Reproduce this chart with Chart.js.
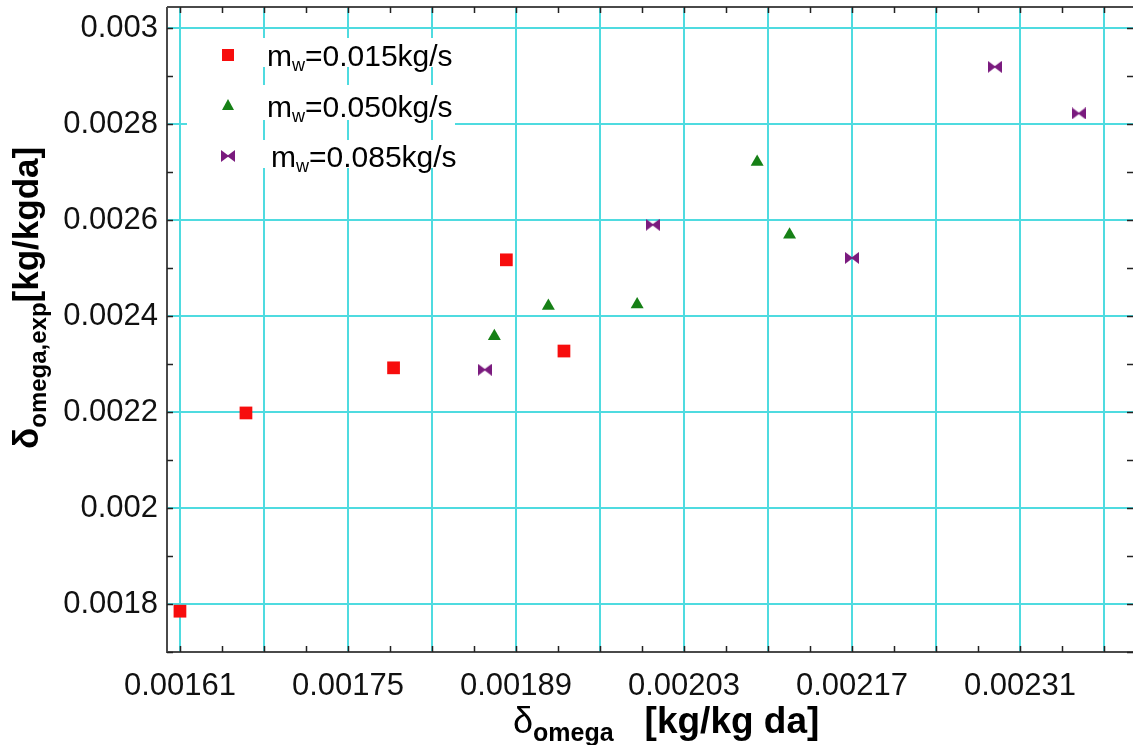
<!DOCTYPE html>
<html>
<head>
<meta charset="utf-8">
<script src="https://cdn.jsdelivr.net/npm/chart.js@4.4.1/dist/chart.umd.min.js"></script>
<style>
  html, body { margin: 0; background: #fff; }
  #wrap { width: 1133px; height: 745px; }
</style>
</head>
<body>
<div id="wrap"><canvas id="chart" width="1133" height="745"></canvas></div>
<script>
// Datos
const seriesNames = ["=0.015kg/s", "=0.050kg/s", "=0.085kg/s"];

const x015 = [0.00161, 0.001665, 0.001788, 0.001882, 0.00193];
const y015 = [0.001785, 0.002198, 0.002292, 0.002517, 0.002327];

const x050 = [0.001872, 0.001917, 0.001991, 0.002091, 0.002118];
const y050 = [0.002358, 0.002421, 0.002424, 0.002721, 0.002569];

const x085 = [0.001864, 0.002004, 0.00217, 0.002289, 0.002359];
const y085 = [0.002288, 0.00259, 0.002521, 0.002919, 0.002822];

const xTickLabels = ["0.00161", "0.00175", "0.00189", "0.00203", "0.00217", "0.00231"];
const yTickLabels = ["0.0018", "0.002", "0.0022", "0.0024", "0.0026", "0.0028", "0.003"];

const FONT = "'Liberation Sans', Arial, sans-serif";
const CYAN = "#4fdbe0";
const colRed = "#f70d0d", colGreen = "#168016", colPurple = "#7a1a7e";

const xLabVals = xTickLabels.map(Number);
const yLabVals = yTickLabels.map(Number);
const xHalf = (xLabVals[1] - xLabVals[0]) / 2;
const xGrid = [];
for (let i = 0; i < xLabVals.length * 2; i++) xGrid.push(+(xLabVals[0] + i * xHalf).toFixed(6));

const toPts = (xs, ys) => xs.map((x, i) => ({ x: x, y: ys[i] }));

// bowtie marker
function bowtie(color) {
    const c = document.createElement("canvas");
    c.width = 14; c.height = 12;
    const g = c.getContext("2d");
    g.fillStyle = color;
    g.beginPath(); g.moveTo(0, 0); g.lineTo(8, 6); g.lineTo(0, 12); g.closePath(); g.fill();
    g.beginPath(); g.moveTo(14, 0); g.lineTo(6, 6); g.lineTo(14, 12); g.closePath(); g.fill();
    return c;
}
const bowImg = bowtie(colPurple);

function richText(ctx, parts, x, y) {
    let cx = x;
    parts.forEach(p => {
        ctx.font = p.font;
        ctx.fillText(p.t, cx, y + (p.dy || 0));
        cx += ctx.measureText(p.t).width + (p.gap || 0);
    });
}

const decor = {
    id: "decor",
    beforeDraw(chart) {
        const ctx = chart.ctx;
        ctx.save(); ctx.fillStyle = "#fff"; ctx.fillRect(0, 0, chart.width, chart.height); ctx.restore();
    },
    afterDraw(chart) {
        const ctx = chart.ctx, a = chart.chartArea;
        const sx = chart.scales.x, sy = chart.scales.y;
        ctx.save();

        // caja de leyenda
        ctx.fillStyle = "#fff";
        ctx.fillRect(187, 38, 268, 130);
        ctx.strokeStyle = CYAN; ctx.lineWidth = 2;
        xGrid.forEach(v => {
            const px = Math.round(sx.getPixelForValue(v));
            if (px > 187 && px < 455) {
                [[67, 85], [120, 140]].forEach(s => {
                    ctx.beginPath(); ctx.moveTo(px, s[0]); ctx.lineTo(px, s[1]); ctx.stroke();
                });
            }
        });
        const rows = [55, 106, 156];
        // marcadores
        ctx.fillStyle = colRed; ctx.fillRect(222, rows[0] - 6, 12, 12);
        ctx.fillStyle = colGreen;
        ctx.beginPath(); ctx.moveTo(228, rows[1] - 7); ctx.lineTo(234, rows[1] + 4); ctx.lineTo(222, rows[1] + 4); ctx.closePath(); ctx.fill();
        ctx.drawImage(bowImg, 221, rows[2] - 6);
        ctx.fillStyle = "#000"; ctx.textBaseline = "alphabetic"; ctx.textAlign = "left";
        seriesNames.forEach((s, i) => {
            richText(ctx, [
                { t: "m", font: "30px " + FONT },
                { t: "w", font: "18px " + FONT, dy: 5 },
                { t: s, font: "30px " + FONT }
            ], i === 2 ? 271 : 267, rows[i] + 11);
        });

        // marco
        ctx.strokeStyle = "#4a4a4a"; ctx.lineWidth = 2;
        ctx.beginPath();
        ctx.moveTo(a.left, a.top); ctx.lineTo(a.right, a.top);
        ctx.moveTo(a.left, a.top); ctx.lineTo(a.left, a.bottom);
        ctx.lineTo(a.right, a.bottom);
        ctx.stroke();

        // marcas menores
        ctx.strokeStyle = "#222"; ctx.lineWidth = 1.5;
        for (let v = xLabVals[0]; v <= sx.max; v += xHalf / 2) {
            const px = Math.round(sx.getPixelForValue(v)) + 0.5;
            ctx.beginPath();
            ctx.moveTo(px, a.bottom); ctx.lineTo(px, a.bottom - 6);
            ctx.moveTo(px, a.top); ctx.lineTo(px, a.top + 6);
            ctx.stroke();
        }
        const yHalf = (yLabVals[1] - yLabVals[0]) / 2;
        for (let v = yLabVals[0] - yHalf; v <= sy.max; v += yHalf) {
            const py = Math.round(sy.getPixelForValue(v)) + 0.5;
            ctx.beginPath();
            ctx.moveTo(a.left, py); ctx.lineTo(a.left + 6, py);
            ctx.moveTo(a.right, py); ctx.lineTo(a.right - 6, py);
            ctx.stroke();
        }

        // títulos de ejes
        ctx.fillStyle = "#000";
        richText(ctx, [
            { t: "δ", font: "36px " + FONT },
            { t: "omega", font: "bold 25px " + FONT, dy: 8, gap: 31 },
            { t: "[kg/kg da]", font: "bold 37px " + FONT }
        ], 513, 733);

        ctx.translate(38, 449);
        ctx.rotate(-Math.PI / 2);
        richText(ctx, [
            { t: "δ", font: "bold 35px " + FONT },
            { t: "omega,exp", font: "bold 24px " + FONT, dy: 8 },
            { t: "[kg/kgda]", font: "bold 35px " + FONT }
        ], 0, 0);
        ctx.restore();
    }
};

new Chart(document.getElementById("chart").getContext("2d"), {
    type: "scatter",
    data: {
        datasets: [
            { label: "mw" + seriesNames[0], data: toPts(x015, y015), pointStyle: "rect", radius: 9, backgroundColor: colRed, borderWidth: 0 },
            { label: "mw" + seriesNames[1], data: toPts(x050, y050), pointStyle: "triangle", radius: 7.5, backgroundColor: colGreen, borderWidth: 0 },
            { label: "mw" + seriesNames[2], data: toPts(x085, y085), pointStyle: bowImg, backgroundColor: colPurple }
        ]
    },
    options: {
        responsive: false,
        animation: false,
        layout: { autoPadding: false, padding: { top: 7, left: 0, right: 0, bottom: 0 } },
        plugins: { legend: { display: false }, tooltip: { enabled: false } },
        scales: {
            x: {
                type: "linear", min: 0.0015992, max: 0.0024042,
                afterBuildTicks: s => { s.ticks = xGrid.map(v => ({ value: v })); },
                afterFit: s => { s.height = 93; s.paddingLeft = 0; s.paddingRight = 0; },
                grid: { color: CYAN, lineWidth: 2, drawTicks: false },
                border: { display: false },
                ticks: {
                    autoSkip: false, maxRotation: 0, padding: 16, color: "#111",
                    font: { family: FONT, size: 31 },
                    callback: v => { const i = xLabVals.findIndex(l => Math.abs(l - v) < 1e-8); return i >= 0 ? xTickLabels[i] : ""; }
                }
            },
            y: {
                type: "linear", min: 0.0017, max: 0.0030437,
                afterBuildTicks: s => { s.ticks = yLabVals.map(v => ({ value: v })); },
                afterFit: s => { s.width = 167; s.paddingTop = 0; s.paddingBottom = 0; },
                grid: { color: CYAN, lineWidth: 2, drawTicks: false },
                border: { display: false },
                ticks: {
                    autoSkip: false, padding: 9, color: "#111",
                    font: { family: FONT, size: 31 },
                    callback: (v, i) => yTickLabels[i]
                }
            }
        }
    },
    plugins: [decor]
});
</script>
</body>
</html>
